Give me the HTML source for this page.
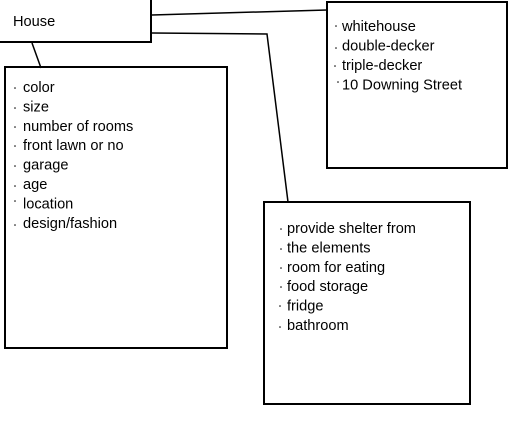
<!DOCTYPE html>
<html><head><meta charset="utf-8"><style>
html,body{margin:0;padding:0;background:#fff;width:530px;height:432px;overflow:hidden}
svg{display:block}
text{font-family:"Liberation Sans",sans-serif;font-size:14.6px;fill:#000}
</style></head><body>
<svg width="530" height="432" viewBox="0 0 530 432" xmlns="http://www.w3.org/2000/svg">
<g fill="none" stroke="#000" stroke-width="2">
<rect x="-5" y="-5" width="156" height="47"/>
<rect x="5" y="67" width="222" height="281"/>
<rect x="327" y="2" width="180" height="166"/>
<rect x="264" y="202" width="206" height="202"/>
<polyline points="32,43 41,68" stroke-width="1.5"/>
<polyline points="152,15 327,10" stroke-width="1.5"/>
<polyline points="152,33 267,34 288,202" stroke-width="1.5"/>
</g>
<text x="13" y="26">House</text>
<g>
<text x="23" y="92">color</text>
<text x="23" y="111.4">size</text>
<text x="23" y="130.8">number of rooms</text>
<text x="23" y="150.2">front lawn or no</text>
<text x="23" y="169.6">garage</text>
<text x="23" y="189">age</text>
<text x="23" y="208.4">location</text>
<text x="23" y="227.8">design/fashion</text>
</g>
<g fill="#000">
<circle cx="15" cy="88" r="0.8"/><circle cx="15" cy="108" r="0.8"/><circle cx="15" cy="127" r="0.8"/><circle cx="15" cy="146" r="0.8"/><circle cx="15" cy="166" r="0.8"/><circle cx="15" cy="186" r="0.8"/><circle cx="15" cy="201" r="0.8"/><circle cx="15" cy="225" r="0.8"/>
<circle cx="336" cy="26" r="0.8"/><circle cx="336" cy="48" r="0.8"/><circle cx="335" cy="66" r="0.8"/><circle cx="338" cy="82" r="0.8"/>
<circle cx="281" cy="229" r="0.8"/><circle cx="281" cy="249" r="0.8"/><circle cx="281" cy="268" r="0.8"/><circle cx="281" cy="287" r="0.8"/><circle cx="280" cy="306" r="0.8"/><circle cx="280" cy="327" r="0.8"/>
</g>
<text x="342" y="31">whitehouse</text>
<text x="342" y="50.6">double-decker</text>
<text x="342" y="70">triple-decker</text>
<text x="342" y="89.6">10 Downing Street</text>
<text x="287" y="233">provide shelter from</text>
<text x="287" y="252.4">the elements</text>
<text x="287" y="271.8">room for eating</text>
<text x="287" y="291.2">food storage</text>
<text x="287" y="310.6">fridge</text>
<text x="287" y="330">bathroom</text>
</svg>
</body></html>
